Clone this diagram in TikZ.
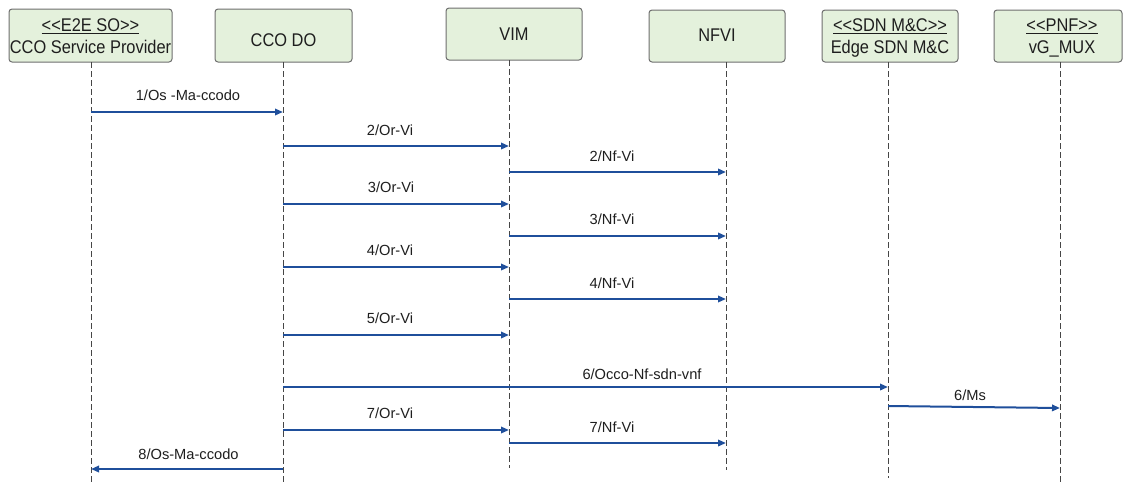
\documentclass[tikz,border=0pt]{standalone}
\usepackage{fontspec}
\setmainfont{Liberation Sans}
\usetikzlibrary{arrows.meta,fit}
\definecolor{arrowblue}{RGB}{31,79,155}
\definecolor{boxfill}{RGB}{228,241,220}
\definecolor{boxline}{RGB}{110,110,110}
\definecolor{lifegray}{RGB}{70,70,70}
\definecolor{txt}{RGB}{30,30,30}
\newcommand{\hs}[1]{\scalebox{1}[1.12]{#1}}
\newcommand{\stlt}{<\kern0pt<}
\newcommand{\stgt}{>\kern0pt>}
\begin{document}
\begin{tikzpicture}[x=0.75pt,y=-0.75pt,
  box/.style={draw=boxline, fill=boxfill, rounded corners=2.25pt, line width=0.75pt, inner sep=0pt},
  hdr/.style={font=\fontsize{12.3}{14}\selectfont, text=txt, inner sep=0pt, anchor=base},
  lbl/.style={font=\fontsize{11}{13}\selectfont, text=txt, inner sep=0pt, anchor=base},
  life/.style={draw=lifegray, line width=0.75pt, dash pattern=on 4.5pt off 2.25pt},
  msg/.style={draw=arrowblue, line width=1.5pt, -{Triangle[length=6pt,width=4.8pt]}}]
\useasboundingbox (0,0) rectangle (1123,483);

% boxes
\node[box, fit={(9,9)(172,62)}] (b1) {};
\node[box, fit={(215,9)(352,62)}] (b2) {};
\node[box, fit={(446,8)(582,60)}] (b3) {};
\node[box, fit={(649,10)(785,62)}] (b4) {};
\node[box, fit={(822,10)(958,62)}] (b5) {};
\node[box, fit={(994,10)(1122,62)}] (b6) {};

% header texts
\node[hdr] (h1a) at (90.5,31) {\hs{\underline{\stlt E2E SO\stgt}}};
\node[hdr] (h1b) at (90.5,53) {\hs{CCO Service Provider}};
\node[hdr] (h2) at (283.5,46) {\hs{CCO DO}};
\node[hdr] (h3) at (514,40) {\hs{VIM}};
\node[hdr] (h4) at (717,41.5) {\hs{NFVI}};
\node[hdr] (h5a) at (890,31) {\hs{\underline{\stlt SDN M\&C\stgt}}};
\node[hdr] (h5b) at (890,53) {\hs{Edge SDN M\&C}};
\node[hdr] (h6a) at (1062,31) {\hs{\underline{\stlt PNF\stgt}}};
\node[hdr] (h6b) at (1062,53) {\hs{vG\_MUX}};

% lifelines
\coordinate (T1) at (91,62);   \coordinate (E1) at (91,483);
\coordinate (T2) at (283,62);  \coordinate (E2) at (283,483);
\coordinate (T3) at (509,60);  \coordinate (E3) at (509,468);
\coordinate (T4) at (726,62);  \coordinate (E4) at (726,470);
\coordinate (T5) at (888,62);  \coordinate (E5) at (888,478);
\coordinate (T6) at (1060,62); \coordinate (E6) at (1060,482);
\foreach \i in {1,...,6} {\draw[life] (T\i) -- (E\i);}

% messages
\draw[msg] (T1 |- 0,112) -- (T2 |- 0,112);
\node[lbl] (m1) at (188,100) {1/Os -Ma-ccodo};

\draw[msg] (T2 |- 0,146) -- (T3 |- 0,146);
\node[lbl] (m2) at (390,135) {2/Or-Vi};
\draw[msg] (T3 |- 0,172) -- (T4 |- 0,172);
\node[lbl] (m3) at (612,161) {2/Nf-Vi};

\draw[msg] (T2 |- 0,204) -- (T3 |- 0,204);
\node[lbl] (m4) at (391,192) {3/Or-Vi};
\draw[msg] (T3 |- 0,236) -- (T4 |- 0,236);
\node[lbl] (m5) at (612,224.5) {3/Nf-Vi};

\draw[msg] (T2 |- 0,267) -- (T3 |- 0,267);
\node[lbl] (m6) at (390,255) {4/Or-Vi};
\draw[msg] (T3 |- 0,299) -- (T4 |- 0,299);
\node[lbl] (m7) at (612,288) {4/Nf-Vi};

\draw[msg] (T2 |- 0,335) -- (T3 |- 0,335);
\node[lbl] (m8) at (390,323.5) {5/Or-Vi};

\draw[msg] (T2 |- 0,387) -- (T5 |- 0,387);
\node[lbl] (m9) at (642,379) {6/Occo-Nf-sdn-vnf};
\draw[msg] (T5 |- 0,406) -- (T6 |- 0,408);
\node[lbl] (m10) at (970,400.5) {6/Ms};

\draw[msg] (T2 |- 0,430) -- (T3 |- 0,430);
\node[lbl] (m11) at (390,418.5) {7/Or-Vi};
\draw[msg] (T3 |- 0,443) -- (T4 |- 0,443);
\node[lbl] (m12) at (612,432.5) {7/Nf-Vi};

\draw[msg] (T2 |- 0,469) -- (T1 |- 0,469);
\node[lbl] (m13) at (188.5,459) {8/Os-Ma-ccodo};
\end{tikzpicture}
\end{document}
